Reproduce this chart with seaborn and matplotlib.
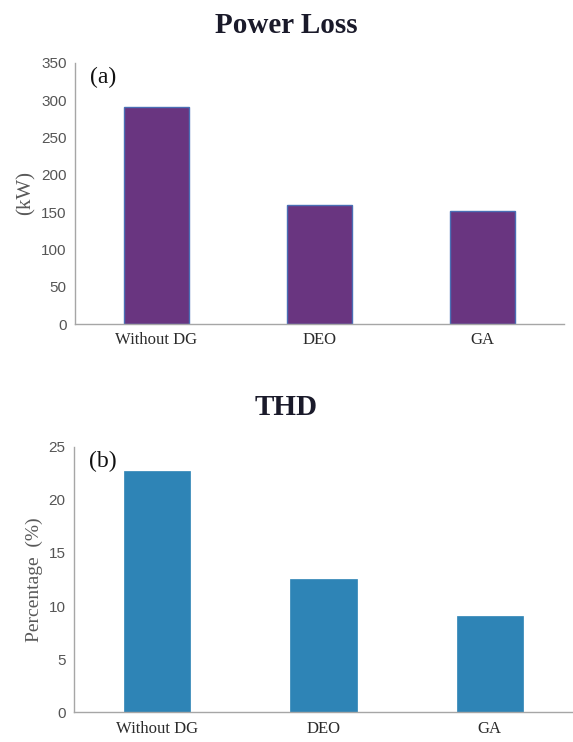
import matplotlib
matplotlib.use("Agg")
import matplotlib.pyplot as plt
import seaborn as sns
import pandas as pd

categories = ["Without DG", "DEO", "GA"]
power_loss_kw = [291, 159, 151]
thd_percent = [22.75, 12.55, 9.07]
power_ticks = [0, 50, 100, 150, 200, 250, 300, 350]
thd_ticks = [0, 5, 10, 15, 20, 25]

sns.set_theme(style="white")
plt.rcParams['font.family'] = ['Liberation Serif', 'DejaVu Serif']

fig = plt.figure(figsize=(5.73, 7.42), dpi=100)
ax1 = fig.add_axes([75/573, 1-324/742, (564-75)/573, (324-62.7)/742])
ax2 = fig.add_axes([74/573, 1-712.3/742, (573-74)/573, (712.3-446.7)/742])

df1 = pd.DataFrame({"cat": categories, "val": power_loss_kw})
df2 = pd.DataFrame({"cat": categories, "val": thd_percent})

sns.barplot(data=df1, x="cat", y="val", ax=ax1, color="#693580", width=0.4,
            edgecolor="#4a6fb5", linewidth=1.0, saturation=1)
sns.barplot(data=df2, x="cat", y="val", ax=ax2, color="#2e84b6", width=0.4,
            edgecolor="#2e84b6", linewidth=0.5, saturation=1)

def style(ax, ticks, ylabel, ylsize, tag):
    ax.set_ylim(ticks[0], ticks[-1])
    ax.set_yticks(ticks)
    ax.set_yticklabels([str(t) for t in ticks], family=['Liberation Sans'],
                       fontsize=11, color="#555555")
    ax.set_xlim(-0.5, 2.5)
    ax.set_xlabel("")
    ax.set_ylabel(ylabel, fontsize=ylsize, color="#595959", labelpad=4)
    for lbl in ax.get_xticklabels():
        lbl.set_fontsize(12)
        lbl.set_color("#2b2b2b")
    ax.tick_params(axis="both", length=0, pad=6)
    for s in ["top", "right"]:
        ax.spines[s].set_visible(False)
    for s in ["left", "bottom"]:
        ax.spines[s].set_color("#a6a6a6")
        ax.spines[s].set_linewidth(1.0)
    ax.text(0.03, 0.985, tag, transform=ax.transAxes, fontsize=17,
            va="top", ha="left", color="#111111")

style(ax1, power_ticks, "(kW)", 15, "(a)")
style(ax2, thd_ticks, "Percentage  (%)", 14, "(b)")

fig.text(0.5, 1-33/742, "Power Loss", fontsize=21, fontweight="bold",
         color="#1a1a2a", ha="center", va="baseline")
fig.text(0.5, 1-415/742, "THD", fontsize=21, fontweight="bold",
         color="#1a1a2a", ha="center", va="baseline")

fig.savefig("out.png", dpi=100)
